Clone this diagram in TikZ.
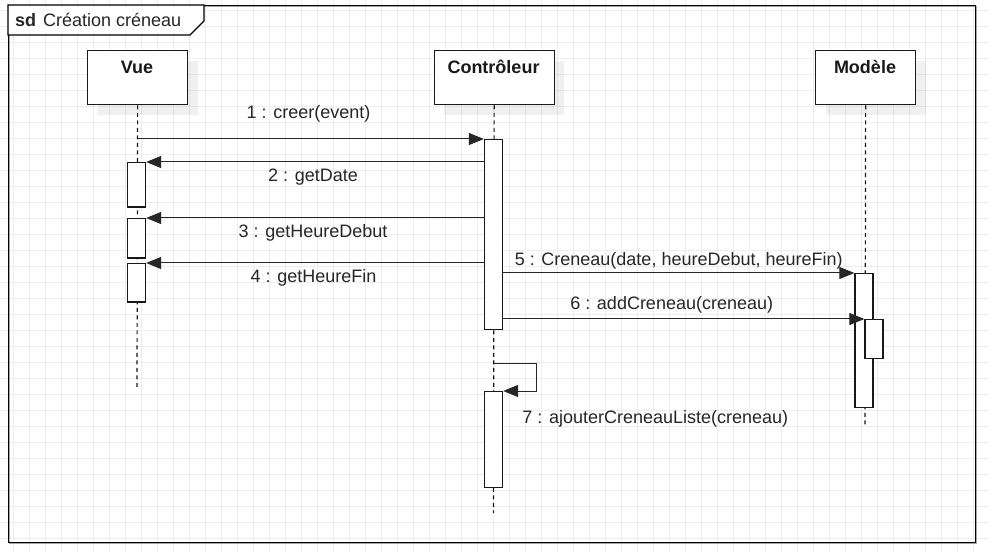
\documentclass[tikz,border=0pt]{standalone}
\usepackage{fontspec}
\setmainfont{Liberation Sans}
\usetikzlibrary{arrows.meta,shadows}
\begin{document}
\begin{tikzpicture}[x=1pt,y=-1pt,
  gridline/.style={draw=black!7, line width=0.8pt},
  frameline/.style={draw=black, line width=1.3pt},
  head/.style={draw=black!90, fill=white, line width=1.3pt, minimum height=54pt, inner sep=0pt, anchor=north west,
    drop shadow={shadow xshift=10pt, shadow yshift=-10pt, fill=black, opacity=0.06}},
  headtxt/.style={font=\fontsize{18}{21}\selectfont\bfseries, text=black!90, anchor=base, inner sep=0pt},
  act/.style={draw=black!90, fill=white, line width=1.3pt, minimum width=18pt, inner sep=0pt, anchor=north},
  lifeline/.style={draw=black!90, line width=1.2pt, dash pattern=on 4pt off 3.5pt},
  msg/.style={draw=black!85, line width=1pt, -{Triangle[length=15pt,width=12pt]}},
  lbl/.style={font=\fontsize{18}{21}\selectfont, text=black!85, anchor=base, inner sep=0pt}
]
\useasboundingbox (0,0) rectangle (988,553);
\fill[white] (0,0) rectangle (988,553);
% grid
\foreach \i in {0,...,60} \draw[gridline] ({13.3+16*\i},0) -- ({13.3+16*\i},553);
\foreach \j in {0,...,33} \draw[gridline] (0,{10.3+16*\j}) -- (988,{10.3+16*\j});
% frame
\draw[draw=black!35, line width=1.3pt] (9.5,6.5) rectangle (976.5,543.5);
\node[frameline, minimum width=967pt, minimum height=537pt, inner sep=0pt, anchor=north west] (frame) at (8,5) {};
\draw[frameline, fill=white] (frame.north west) -- (204,5) -- (204,21) -- (190,35) -- (8,35) -- cycle;
\node[lbl, anchor=base west] (title) at (15,26.7) {\textbf{sd}\hspace{7pt}Création créneau};
% heads
\node[head, minimum width=100pt] (vue) at (87,50) {};
\node[head, minimum width=120pt] (ctrl) at (433.5,50) {};
\node[head, minimum width=100pt] (mod) at (815,50) {};
\node[headtxt] (vuet) at (137,73.8) {Vue};
\node[headtxt] (ctrlt) at (493.5,73.5) {Contrôleur};
\node[headtxt] (modt) at (865,73.5) {Modèle};
% lifelines
\coordinate (vueEnd) at (137,387);
\coordinate (ctrlEnd) at (493.5,513);
\coordinate (modEnd) at (865,427);
\draw[lifeline] (vue.south) -- (vueEnd);
\draw[lifeline] (ctrl.south) -- (ctrlEnd);
\draw[lifeline] (mod.south) -- (modEnd);
% activations
\node[act, minimum height=44.5pt] (vA1) at (136.5,162) {};
\node[act, minimum height=39.5pt] (vA2) at (136.5,218) {};
\node[act, minimum height=38.5pt] (vA3) at (136.5,263) {};
\node[act, minimum height=190pt] (cA1) at (493.5,139) {};
\node[act, minimum height=95.5pt] (cA2) at (493.5,391) {};
\node[act, minimum height=134pt] (mA1) at (864,273) {};
\node[act, minimum height=38.5pt] (mA2) at (874,319) {};
% messages
\draw[msg] (vue.south |- cA1.north) -- (cA1.north west);
\draw[msg] (cA1.west |- vA1.north) -- (vA1.north east);
\draw[msg] (cA1.west |- vA2.north) -- (vA2.north east);
\draw[msg] (cA1.west |- vA3.north) -- (vA3.north east);
\draw[msg] (cA1.east |- mA1.north) -- (mA1.north west);
\draw[msg] (cA1.east |- mA2.north) -- (mA2.north west);
\coordinate (s7) at (493.5,363);
\draw[msg] (s7) -- ++(42.5,0) |- (cA2.north east);
% labels
\node[lbl] (l1) at (308.5,119) {1 : creer(event)};
\node[lbl] (l2) at (313,181.7) {2 : getDate};
\node[lbl] (l3) at (313,237.7) {3 : getHeureDebut};
\node[lbl] (l4) at (313.5,282.7) {4 : getHeureFin};
\node[lbl] (l5) at (678.7,265.7) {5 : Creneau(date, heureDebut, heureFin)};
\node[lbl] (l6) at (671.7,309.3) {6 : addCreneau(creneau)};
\node[lbl] (l7) at (655.3,423.3) {7 : ajouterCreneauListe(creneau)};
\end{tikzpicture}
\end{document}
